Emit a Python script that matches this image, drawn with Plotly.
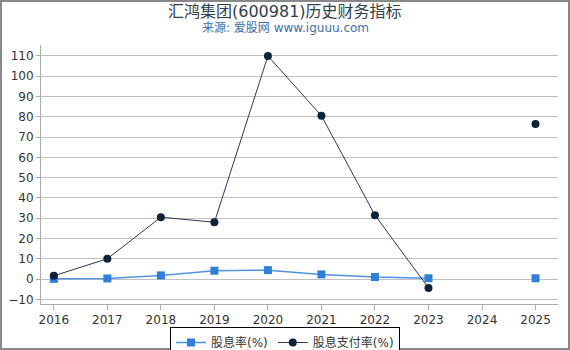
import plotly.graph_objects as go

years = [2016, 2017, 2018, 2019, 2020, 2021, 2022, 2023, 2024, 2025]
dividend_yield = [0.1, 0.3, 1.8, 4.1, 4.4, 2.3, 1.0, 0.4, None, 0.4]
payout_ratio = [1.6, 10.0, 30.5, 28.0, 110.0, 80.5, 31.5, -4.4, None, 76.5]
y_ticks = [-10, 0, 10, 20, 30, 40, 50, 60, 70, 80, 90, 100, 110]

W, H = 570, 350
L, R, T, B = 41, 12, 45, 46
pw, ph = W - L - R, H - T - B

def py(pix):
    return (H - B - pix) / ph

fig = go.Figure()
fig.add_trace(go.Scatter(
    x=years, y=dividend_yield, name="股息率(%)", mode="lines+markers",
    line=dict(color="#4f93e3", width=1.5),
    marker=dict(symbol="square", size=8, color="#2f7ed8"),
    connectgaps=False,
))
fig.add_trace(go.Scatter(
    x=years, y=payout_ratio, name="股息支付率(%)", mode="lines+markers",
    line=dict(color="#2a3a55", width=1),
    marker=dict(symbol="circle", size=8, color="#0d233a"),
    connectgaps=False,
))

fig.update_layout(
    width=W, height=H, autosize=False,
    margin=dict(l=L, r=R, t=T, b=B, autoexpand=False),
    paper_bgcolor="white", plot_bgcolor="white",
    font=dict(family="DejaVu Sans, Noto Sans CJK SC", size=12, color="#333333"),
    showlegend=True,
    legend=dict(
        orientation="h", x=0.472, xanchor="center",
        yref="container", y=(H - 327) / H, yanchor="top",
        bordercolor="#000000", borderwidth=1, font=dict(size=12, color="#333333"),
        itemwidth=30, tracegroupgap=0,
    ),
    annotations=[
        dict(text="汇鸿集团(600981)历史财务指标", xref="paper", yref="paper",
             x=0.472, y=py(11), xanchor="center", yanchor="middle", showarrow=False,
             font=dict(size=16, color="#2f3e52")),
        dict(text="来源: 爱股网 www.iguuu.com", xref="paper", yref="paper",
             x=0.472, y=py(28), xanchor="center", yanchor="middle", showarrow=False,
             font=dict(size=12, color="#3d6ea8")),
    ],
    xaxis=dict(
        range=[2015.76, 2025.42], tickmode="array", tickvals=years,
        ticktext=[str(y) for y in years],
        showgrid=False, showline=True, linecolor="#aaaaaa", linewidth=1,
        ticks="outside", ticklen=5, tickcolor="#aaaaaa",
        tickfont=dict(size=12, color="#333333"), zeroline=False,
    ),
    yaxis=dict(
        range=[-12.3, 115.4], tickmode="array", tickvals=y_ticks,
        showgrid=True, gridcolor="#c0c0c0", gridwidth=1,
        showline=True, linecolor="#aaaaaa", linewidth=1,
        ticks="outside", ticklen=4, tickcolor="#aaaaaa",
        tickfont=dict(size=12, color="#333333"), zeroline=False,
    ),
    shapes=[dict(
        type="rect", xref="paper", yref="paper",
        x0=(1 - L) / pw, x1=(W - 1 - L) / pw,
        y0=py(H - 1), y1=py(1),
        line=dict(color="#888888", width=2), fillcolor="rgba(0,0,0,0)",
        layer="above",
    )],
)

fig.write_html("out.html")
